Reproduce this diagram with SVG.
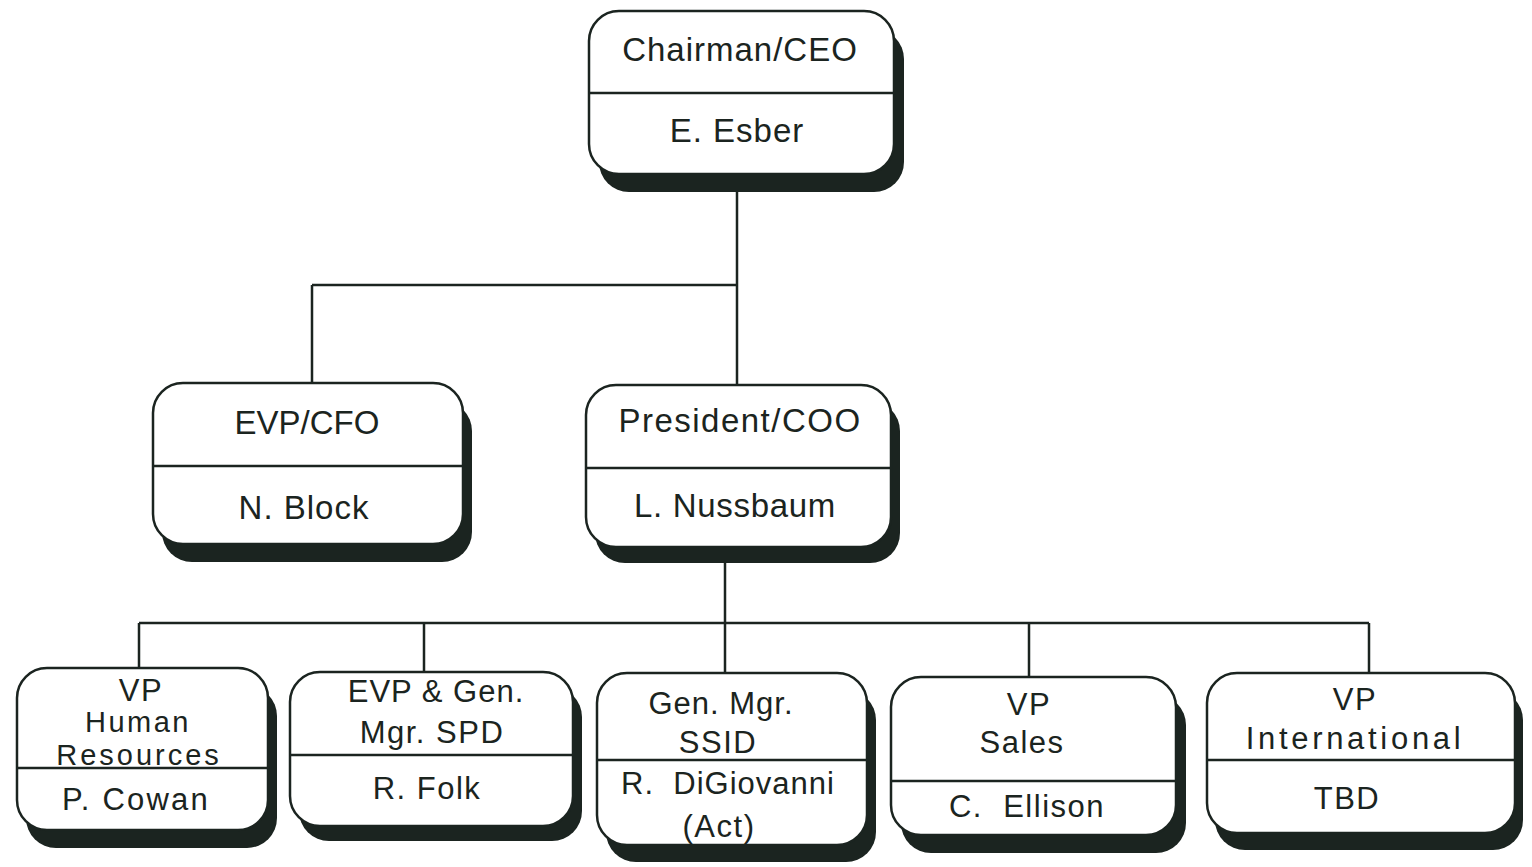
<svg xmlns="http://www.w3.org/2000/svg" width="1532" height="867" viewBox="0 0 1532 867">
<style>
.sh{fill:#1b2420;stroke:none}
.bx{fill:#fff;stroke:#1b2420;stroke-width:2.5}
.dv{stroke:#1b2420;stroke-width:2.5}
.cn{fill:none;stroke:#1b2420;stroke-width:2.5}
text{font-family:"Liberation Sans",Arial,sans-serif;fill:#1b2420;text-anchor:middle}
.t1{font-size:33px;letter-spacing:1px}
.t2{font-size:31px;letter-spacing:1.5px}
</style>
<rect width="1532" height="867" fill="#fff"/>
<g id="connectors">
<path class="cn" d="M737 190V385M312 285H737M312 285V383"/>
<path class="cn" d="M725 562V673M139 623H1369M139 623V668M424 623V672M1029 623V677M1369 623V673"/>
</g>
<g id="ceo">
<rect class="sh" x="599" y="29" width="305" height="163" rx="30"/>
<rect class="bx" x="589" y="11" width="305" height="163" rx="30"/>
<line class="dv" x1="589" y1="93" x2="894" y2="93"/>
<text class="t1" x="740" y="61">Chairman/CEO</text>
<text class="t1" x="737" y="142">E. Esber</text>
</g>
<g id="cfo">
<rect class="sh" x="162" y="401" width="310" height="161" rx="30"/>
<rect class="bx" x="153" y="383" width="310" height="161" rx="30"/>
<line class="dv" x1="153" y1="466" x2="463" y2="466"/>
<text class="t1" x="307" y="434" style="letter-spacing:0">EVP/CFO</text>
<text class="t1" x="304" y="519">N. Block</text>
</g>
<g id="coo">
<rect class="sh" x="595" y="401" width="305" height="162" rx="30"/>
<rect class="bx" x="586" y="385" width="305" height="162" rx="30"/>
<line class="dv" x1="586" y1="468" x2="891" y2="468"/>
<text class="t1" x="740" y="432" style="letter-spacing:1.5px">President/COO</text>
<text class="t1" x="735" y="517" style="letter-spacing:0.7px">L. Nussbaum</text>
</g>
<g id="hr">
<rect class="sh" x="26" y="686" width="251" height="162" rx="30"/>
<rect class="bx" x="17" y="668" width="251" height="162" rx="30"/>
<line class="dv" x1="17" y1="768" x2="268" y2="768"/>
<text class="t2" x="141" y="701">VP</text>
<text class="t2" x="138" y="732" style="font-size:29px;letter-spacing:2.5px">Human</text>
<text class="t2" x="139" y="765" style="font-size:29px;letter-spacing:3px">Resources</text>
<text class="t2" x="136" y="810" style="letter-spacing:2.2px">P. Cowan</text>
</g>
<g id="spd">
<rect class="sh" x="299" y="687" width="283" height="154" rx="30"/>
<rect class="bx" x="290" y="672" width="283" height="154" rx="30"/>
<line class="dv" x1="290" y1="755" x2="573" y2="755"/>
<text class="t2" x="436" y="702" style="letter-spacing:1px">EVP &amp; Gen.</text>
<text class="t2" x="432" y="743">Mgr. SPD</text>
<text class="t2" x="427" y="799">R. Folk</text>
</g>
<g id="ssid">
<rect class="sh" x="606" y="690" width="270" height="172" rx="30"/>
<rect class="bx" x="597" y="673" width="270" height="172" rx="30"/>
<line class="dv" x1="597" y1="760" x2="867" y2="760"/>
<text class="t2" x="721" y="714" style="letter-spacing:1px">Gen. Mgr.</text>
<text class="t2" x="718" y="753">SSID</text>
<text class="t2" x="728" y="794" style="letter-spacing:1px" xml:space="preserve">R.  DiGiovanni</text>
<text class="t2" x="719" y="837">(Act)</text>
</g>
<g id="sales">
<rect class="sh" x="901" y="695" width="285" height="158" rx="30"/>
<rect class="bx" x="891" y="677" width="285" height="158" rx="30"/>
<line class="dv" x1="891" y1="781" x2="1176" y2="781"/>
<text class="t2" x="1029" y="715">VP</text>
<text class="t2" x="1022" y="753">Sales</text>
<text class="t2" x="1027" y="817" xml:space="preserve">C.  Ellison</text>
</g>
<g id="intl">
<rect class="sh" x="1215" y="690" width="308" height="160" rx="30"/>
<rect class="bx" x="1207" y="673" width="308" height="160" rx="30"/>
<line class="dv" x1="1207" y1="760" x2="1515" y2="760"/>
<text class="t2" x="1355" y="710">VP</text>
<text class="t2" x="1355" y="749" style="letter-spacing:3.7px">International</text>
<text class="t2" x="1347" y="809">TBD</text>
</g>
</svg>
